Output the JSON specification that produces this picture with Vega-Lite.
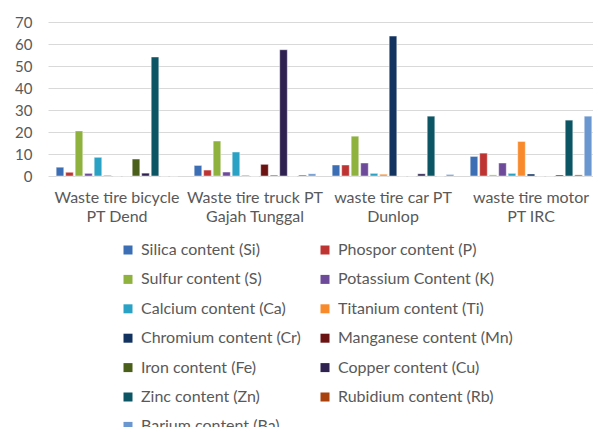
{
  "$schema": "https://vega.github.io/schema/vega-lite/v6.json",
  "autosize": "none",
  "padding": {"left": 48, "top": 22, "right": 0, "bottom": 251},
  "width": 552,
  "height": 154,
  "background": "#ffffff",
  "config": {
    "font": "Lato",
    "view": {"stroke": null},
    "axis": {"labelFont": "Lato", "labelColor": "#595959", "labelFontSize": 15, "titleFont": "Lato"},
    "legend": {"labelFont": "Lato"}
  },
  "data": {
    "values": [
      {"group": "Waste tire bicycle PT Dend", "element": "Silica content (Si)", "value": 4.0},
      {"group": "Waste tire bicycle PT Dend", "element": "Phospor content (P)", "value": 1.7},
      {"group": "Waste tire bicycle PT Dend", "element": "Sulfur content (S)", "value": 20.5},
      {"group": "Waste tire bicycle PT Dend", "element": "Potassium Content (K)", "value": 1.2},
      {"group": "Waste tire bicycle PT Dend", "element": "Calcium content (Ca)", "value": 8.5},
      {"group": "Waste tire bicycle PT Dend", "element": "Titanium content (Ti)", "value": 0.4},
      {"group": "Waste tire bicycle PT Dend", "element": "Chromium content (Cr)", "value": 0},
      {"group": "Waste tire bicycle PT Dend", "element": "Manganese content (Mn)", "value": 0},
      {"group": "Waste tire bicycle PT Dend", "element": "Iron content (Fe)", "value": 7.7},
      {"group": "Waste tire bicycle PT Dend", "element": "Copper content (Cu)", "value": 1.3},
      {"group": "Waste tire bicycle PT Dend", "element": "Zinc content (Zn)", "value": 54.1},
      {"group": "Waste tire bicycle PT Dend", "element": "Rubidium content (Rb)", "value": 0},
      {"group": "Waste tire bicycle PT Dend", "element": "Barium content (Ba)", "value": 0},
      {"group": "Waste tire truck PT Gajah Tunggal", "element": "Silica content (Si)", "value": 4.8},
      {"group": "Waste tire truck PT Gajah Tunggal", "element": "Phospor content (P)", "value": 2.7},
      {"group": "Waste tire truck PT Gajah Tunggal", "element": "Sulfur content (S)", "value": 15.9},
      {"group": "Waste tire truck PT Gajah Tunggal", "element": "Potassium Content (K)", "value": 1.8},
      {"group": "Waste tire truck PT Gajah Tunggal", "element": "Calcium content (Ca)", "value": 10.9},
      {"group": "Waste tire truck PT Gajah Tunggal", "element": "Titanium content (Ti)", "value": 0.4},
      {"group": "Waste tire truck PT Gajah Tunggal", "element": "Chromium content (Cr)", "value": 0},
      {"group": "Waste tire truck PT Gajah Tunggal", "element": "Manganese content (Mn)", "value": 5.3},
      {"group": "Waste tire truck PT Gajah Tunggal", "element": "Iron content (Fe)", "value": 0.4},
      {"group": "Waste tire truck PT Gajah Tunggal", "element": "Copper content (Cu)", "value": 57.4},
      {"group": "Waste tire truck PT Gajah Tunggal", "element": "Zinc content (Zn)", "value": 0},
      {"group": "Waste tire truck PT Gajah Tunggal", "element": "Rubidium content (Rb)", "value": 0.4},
      {"group": "Waste tire truck PT Gajah Tunggal", "element": "Barium content (Ba)", "value": 1.0},
      {"group": "waste tire car PT Dunlop", "element": "Silica content (Si)", "value": 5.0},
      {"group": "waste tire car PT Dunlop", "element": "Phospor content (P)", "value": 5.0},
      {"group": "waste tire car PT Dunlop", "element": "Sulfur content (S)", "value": 18.1},
      {"group": "waste tire car PT Dunlop", "element": "Potassium Content (K)", "value": 5.9},
      {"group": "waste tire car PT Dunlop", "element": "Calcium content (Ca)", "value": 1.2},
      {"group": "waste tire car PT Dunlop", "element": "Titanium content (Ti)", "value": 0.8},
      {"group": "waste tire car PT Dunlop", "element": "Chromium content (Cr)", "value": 63.6},
      {"group": "waste tire car PT Dunlop", "element": "Manganese content (Mn)", "value": 0},
      {"group": "waste tire car PT Dunlop", "element": "Iron content (Fe)", "value": 0},
      {"group": "waste tire car PT Dunlop", "element": "Copper content (Cu)", "value": 1.0},
      {"group": "waste tire car PT Dunlop", "element": "Zinc content (Zn)", "value": 27.2},
      {"group": "waste tire car PT Dunlop", "element": "Rubidium content (Rb)", "value": 0},
      {"group": "waste tire car PT Dunlop", "element": "Barium content (Ba)", "value": 0.7},
      {"group": "waste tire motor PT IRC", "element": "Silica content (Si)", "value": 8.9},
      {"group": "waste tire motor PT IRC", "element": "Phospor content (P)", "value": 10.4},
      {"group": "waste tire motor PT IRC", "element": "Sulfur content (S)", "value": 0.5},
      {"group": "waste tire motor PT IRC", "element": "Potassium Content (K)", "value": 5.9},
      {"group": "waste tire motor PT IRC", "element": "Calcium content (Ca)", "value": 1.2},
      {"group": "waste tire motor PT IRC", "element": "Titanium content (Ti)", "value": 15.7},
      {"group": "waste tire motor PT IRC", "element": "Chromium content (Cr)", "value": 0.9},
      {"group": "waste tire motor PT IRC", "element": "Manganese content (Mn)", "value": 0},
      {"group": "waste tire motor PT IRC", "element": "Iron content (Fe)", "value": 0},
      {"group": "waste tire motor PT IRC", "element": "Copper content (Cu)", "value": 0.5},
      {"group": "waste tire motor PT IRC", "element": "Zinc content (Zn)", "value": 25.4},
      {"group": "waste tire motor PT IRC", "element": "Rubidium content (Rb)", "value": 0.5},
      {"group": "waste tire motor PT IRC", "element": "Barium content (Ba)", "value": 27.2}
    ]
  },
  "mark": {"type": "bar", "stroke": "#ffffff", "strokeOpacity": 0.45, "strokeWidth": 1},
  "encoding": {
    "x": {
      "field": "group",
      "type": "nominal",
      "sort": null,
      "scale": {"paddingInner": 0, "paddingOuter": 0},
      "axis": {
        "title": null,
        "domain": false,
        "ticks": false,
        "labelAngle": 0,
        "labelPadding": 13,
        "labelFontSize": 16,
        "labelLineHeight": 19,
        "labelExpr": "datum.value == 'Waste tire bicycle PT Dend' ? ['Waste tire bicycle', 'PT Dend'] : datum.value == 'Waste tire truck PT Gajah Tunggal' ? ['Waste tire truck PT', 'Gajah Tunggal'] : datum.value == 'waste tire car PT Dunlop' ? ['waste tire car PT', 'Dunlop'] : ['waste tire motor', 'PT IRC']"
      }
    },
    "xOffset": {
      "field": "element",
      "type": "nominal",
      "sort": null,
      "scale": {"paddingInner": 0.2, "paddingOuter": 0.86}
    },
    "y": {
      "field": "value",
      "type": "quantitative",
      "scale": {"domain": [0, 70], "nice": false},
      "axis": {
        "title": null,
        "values": [0, 10, 20, 30, 40, 50, 60, 70],
        "domain": false,
        "ticks": false,
        "labelPadding": 16,
        "gridColor": "#D9D9D9",
        "gridWidth": 1.2
      }
    },
    "color": {
      "field": "element",
      "type": "nominal",
      "sort": null,
      "scale": {
        "domain": ["Silica content (Si)", "Phospor content (P)", "Sulfur content (S)", "Potassium Content (K)", "Calcium content (Ca)", "Titanium content (Ti)", "Chromium content (Cr)", "Manganese content (Mn)", "Iron content (Fe)", "Copper content (Cu)", "Zinc content (Zn)", "Rubidium content (Rb)", "Barium content (Ba)"],
        "range": ["#3B6EB5", "#BE3432", "#8FB23F", "#6D4A9A", "#2AA2C5", "#F88A2C", "#12325F", "#6B1213", "#4A5F19", "#2F2250", "#0C5565", "#A8410B", "#6A97CF"]
      },
      "legend": {
        "title": null,
        "orient": "none",
        "direction": "horizontal",
        "legendX": 72,
        "legendY": 220,
        "columns": 2,
        "columnPadding": 16,
        "rowPadding": 13.4,
        "symbolType": "square",
        "symbolSize": 81,
        "symbolStrokeWidth": 0,
        "labelFontSize": 16,
        "labelColor": "#595959",
        "labelOffset": 5,
        "labelLimit": 300,
        "padding": 0
      }
    }
  }
}
